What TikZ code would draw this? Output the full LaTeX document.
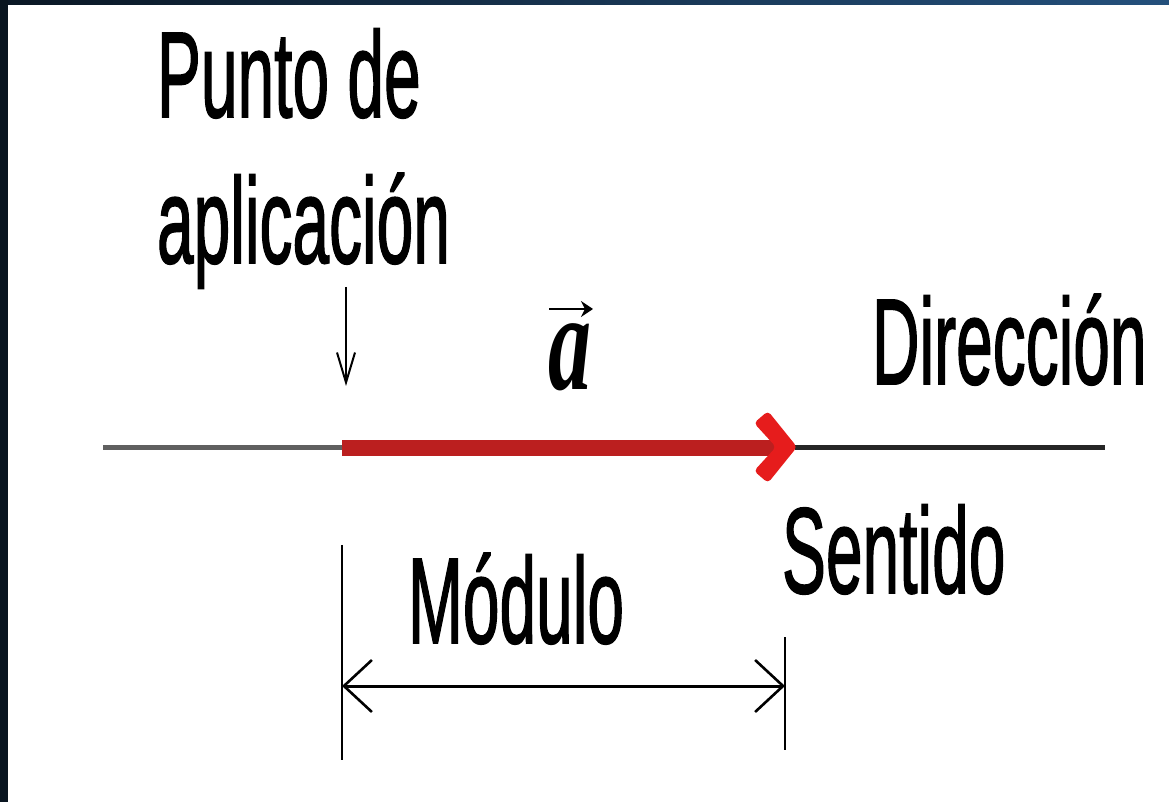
\documentclass[tikz,border=0pt]{standalone}
\usepackage{fontspec}
\setmainfont{Liberation Sans}
\newfontfamily\heavysans{Liberation Sans}[FakeBold=1.6]
\newfontfamily\vecfont{Liberation Serif}
\usetikzlibrary{arrows.meta}
\newcommand{\squeezed}[1]{\scalebox{0.54}[1]{#1}}
\definecolor{bandL}{HTML}{0A1724}
\definecolor{bandR}{HTML}{24507C}
\definecolor{shaftred}{HTML}{BB1F1F}
\definecolor{headred}{HTML}{E61C1C}
\tikzset{
  label/.style={anchor=base west, inner sep=0pt, outer sep=0pt, text=black,
    font=\heavysans\fontsize{61}{72}\selectfont},
  baseline gray/.style={draw=gray!75!black, line width=2.5pt},
  baseline dark/.style={draw=black!85, line width=2.5pt},
  shaft/.style={draw=shaftred, line width=8pt},
  pointer/.style={draw=black, line width=1pt,
    -{Straight Barb[length=15pt,width=9pt,line width=1pt]}},
  vecarrow/.style={draw=black, line width=1.4pt,
    -{Stealth[length=6pt,width=8pt]}},
  dimline/.style={draw=black, line width=1.5pt,
    {Straight Barb[length=14pt,width=26pt,line width=1.3pt]}-{Straight Barb[length=14pt,width=26pt,line width=1.3pt]}},
  tick/.style={draw=black, line width=1pt},
}
\begin{document}
\begin{tikzpicture}[x=0.5pt,y=-0.5pt]
\useasboundingbox (0,0) rectangle (1169,802);
\fill[white] (0,0) rectangle (1169,802);
% border bands
\shade[left color=bandL, right color=bandR] (0,0) rectangle (1169,5);
\fill[bandL!90!black] (0,0) rectangle (8,802);

% labels
\node[label] (punto) at (157,117) {\squeezed{Punto de}};
\node[label] (aplic) at (157,263) {\squeezed{aplicación}};
\node[label] (dir) at (872,384) {\squeezed{Dirección}};
\node[label] (sent) at (782,593) {\squeezed{Sentido}};
\node[label] (mod) at (408,643) {\squeezed{Módulo}};
\node[anchor=base west, inner sep=0pt] (vec) at (548,390)
  {\scalebox{4.3}[7.0]{\vecfont\bfseries\itshape a}};
\coordinate (va) at (549,309);
\coordinate (vb) at (593,309);
\draw[vecarrow] (va) -- (vb);

% main line
\coordinate (L) at (103,448);
\coordinate (P) at (342,448);
\coordinate (S) at (780,448);
\coordinate (T) at (795,448);
\coordinate (R) at (1105,448);
\draw[baseline gray] (L) -- (P);
\draw[baseline dark] (T) -- (R);
\draw[shaft] (P) -- (S);
\fill[headred, rounded corners=2pt] (797,447) -- (768,411) -- (754,423) -- (776,447) -- (754,471) -- (768,483) -- cycle;

% pointer to application point
\coordinate (ptop) at (346,287);
\coordinate (ptip) at (346,386);
\draw[pointer] (ptop) -- (ptip);

% dimension (modulus)
\coordinate (tl1) at (342,545);
\coordinate (tl2) at (342,760);
\coordinate (tr1) at (785,637);
\coordinate (tr2) at (785,750);
\coordinate (dl) at (342,686);
\coordinate (dr) at (785,686);
\draw[tick] (tl1) -- (tl2);
\draw[tick] (tr1) -- (tr2);
\draw[dimline] (dl) -- (dr);
\end{tikzpicture}
\end{document}
